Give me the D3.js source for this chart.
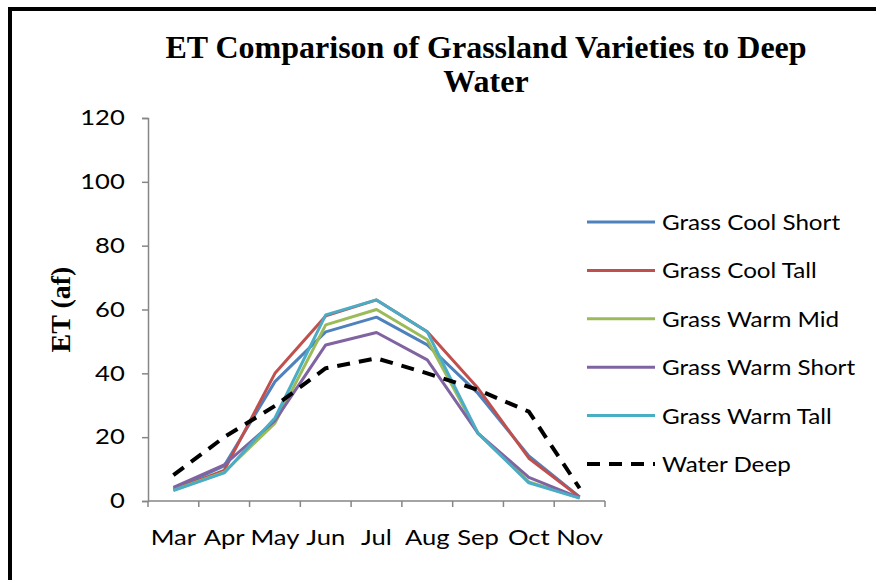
<!DOCTYPE html>
<html>
<head>
<meta charset="utf-8">
<script src="https://cdn.jsdelivr.net/npm/d3@7"></script>
<style>
  body { margin: 0; background: #fff; }
  svg { display: block; }
</style>
</head>
<body>
<div id="chart"></div>
<script>
// months on the x axis
var months = ["Mar", "Apr", "May", "Jun", "Jul", "Aug", "Sep", "Oct", "Nov"];

// ET values (af)
var grassCoolShort = [3.7, 11.0, 37.4, 53.0, 57.6, 48.9, 33.7, 14.1, 1.3];
var grassCoolTall  = [3.5, 9.6, 40.0, 58.0, 63.0, 53.0, 35.3, 13.4, 1.2];
var grassWarmMid   = [3.4, 9.0, 24.4, 55.2, 60.0, 50.5, 21.2, 6.0, 1.0];
var grassWarmShort = [4.3, 11.3, 25.2, 48.9, 52.8, 44.2, 21.2, 7.4, 1.0];
var grassWarmTall  = [3.3, 8.8, 26.0, 58.3, 63.0, 53.0, 21.2, 5.7, 0.9];
var waterDeep      = [8.1, 20.0, 29.8, 41.6, 44.7, 40.0, 34.8, 28.0, 4.0];

var yTicks = [0, 20, 40, 60, 80, 100, 120];

var seriesNames = ["Grass Cool Short", "Grass Cool Tall", "Grass Warm Mid",
                   "Grass Warm Short", "Grass Warm Tall", "Water Deep"];
var seriesValues = [grassCoolShort, grassCoolTall, grassWarmMid,
                    grassWarmShort, grassWarmTall, waterDeep];
var colors = ["#4F81BD", "#C0504D", "#9BBB59", "#8064A2", "#4BACC6", "#000000"];

var width = 876, height = 580;
var plot = {left: 148, right: 605, top: 118, bottom: 501};

// the original text looks a bit stretched sideways
var stretch = "scale(1.22,1)";

var svg = d3.select("#chart").append("svg")
    .attr("width", width)
    .attr("height", height);

// outer frame (right and bottom edges run off the picture)
svg.append("rect")
    .attr("x", 10).attr("y", 9)
    .attr("width", 920).attr("height", 620)
    .attr("fill", "none")
    .attr("stroke", "#000")
    .attr("stroke-width", 4);

// title
var title = svg.append("text")
    .attr("text-anchor", "middle")
    .attr("font-family", "'Liberation Serif', 'Times New Roman', serif")
    .attr("font-weight", "bold")
    .attr("font-size", 32);
title.append("tspan").attr("x", 486).attr("y", 58).text("ET Comparison of Grassland Varieties to Deep");
title.append("tspan").attr("x", 486).attr("y", 92).text("Water");

var x = d3.scaleBand()
    .domain(months)
    .range([plot.left, plot.right]);

var y = d3.scaleLinear()
    .domain([0, 120])
    .range([plot.bottom, plot.top]);

var axisColor = "#868686";
var labelFont = "Lato, 'Open Sans', sans-serif";

// y axis
var yAxis = svg.append("g")
    .attr("transform", "translate(" + plot.left + ",0)")
    .call(d3.axisLeft(y).tickValues(yTicks).tickSize(6).tickPadding(13));
yAxis.select(".domain").attr("stroke", axisColor).attr("stroke-width", 1.5);
yAxis.selectAll(".tick line").attr("stroke", axisColor).attr("stroke-width", 1.5);
yAxis.selectAll(".tick text")
    .attr("fill", "#000")
    .attr("font-family", labelFont)
    .attr("font-size", 21)
    .attr("transform", stretch);

// x axis: ticks between categories
var xAxis = svg.append("g")
    .attr("transform", "translate(0," + plot.bottom + ")");
xAxis.append("line")
    .attr("x1", plot.left).attr("x2", plot.right)
    .attr("stroke", axisColor).attr("stroke-width", 1.5);
var edges = months.map(function(m) { return x(m); }).concat([plot.right]);
xAxis.selectAll(".xtick")
    .data(edges)
    .enter().append("line")
    .attr("x1", function(d) { return d; })
    .attr("x2", function(d) { return d; })
    .attr("y1", 0).attr("y2", 6)
    .attr("stroke", axisColor).attr("stroke-width", 1.5);
xAxis.selectAll(".xlabel")
    .data(months)
    .enter().append("text")
    .attr("transform", function(d) {
      return "translate(" + (x(d) + x.bandwidth() / 2) + ",44) " + stretch;
    })
    .attr("text-anchor", "middle")
    .attr("font-family", labelFont)
    .attr("font-size", 21)
    .text(function(d) { return d; });

// y axis title
svg.append("text")
    .attr("transform", "translate(70," + ((plot.top + plot.bottom) / 2) + ") rotate(-90)")
    .attr("text-anchor", "middle")
    .attr("font-family", "'Liberation Serif', 'Times New Roman', serif")
    .attr("font-weight", "bold")
    .attr("font-size", 28)
    .text("ET (af)");

// lines
var line = d3.line()
    .x(function(d, i) { return x(months[i]) + x.bandwidth() / 2; })
    .y(function(d) { return y(d); });

svg.append("g")
    .selectAll("path")
    .data(seriesValues)
    .enter().append("path")
    .attr("d", line)
    .attr("fill", "none")
    .attr("stroke", function(d, i) { return colors[i]; })
    .attr("stroke-width", function(d, i) { return i == 5 ? 4 : 3; })
    .attr("stroke-dasharray", function(d, i) { return i == 5 ? "13,9" : null; })
    .attr("stroke-linejoin", "round");

// legend
var legend = svg.append("g")
    .selectAll("g")
    .data(seriesNames)
    .enter().append("g")
    .attr("transform", function(d, i) { return "translate(587," + (222 + i * 48.4) + ")"; });
legend.append("line")
    .attr("x1", 0).attr("x2", 68)
    .attr("stroke", function(d, i) { return colors[i]; })
    .attr("stroke-width", function(d, i) { return i == 5 ? 4 : 3; })
    .attr("stroke-dasharray", function(d, i) { return i == 5 ? "13,9" : null; });
legend.append("text")
    .attr("transform", "translate(75,8) scale(1.1,1)")
    .attr("font-family", labelFont)
    .attr("font-size", 22)
    .text(function(d) { return d; });
</script>
</body>
</html>
